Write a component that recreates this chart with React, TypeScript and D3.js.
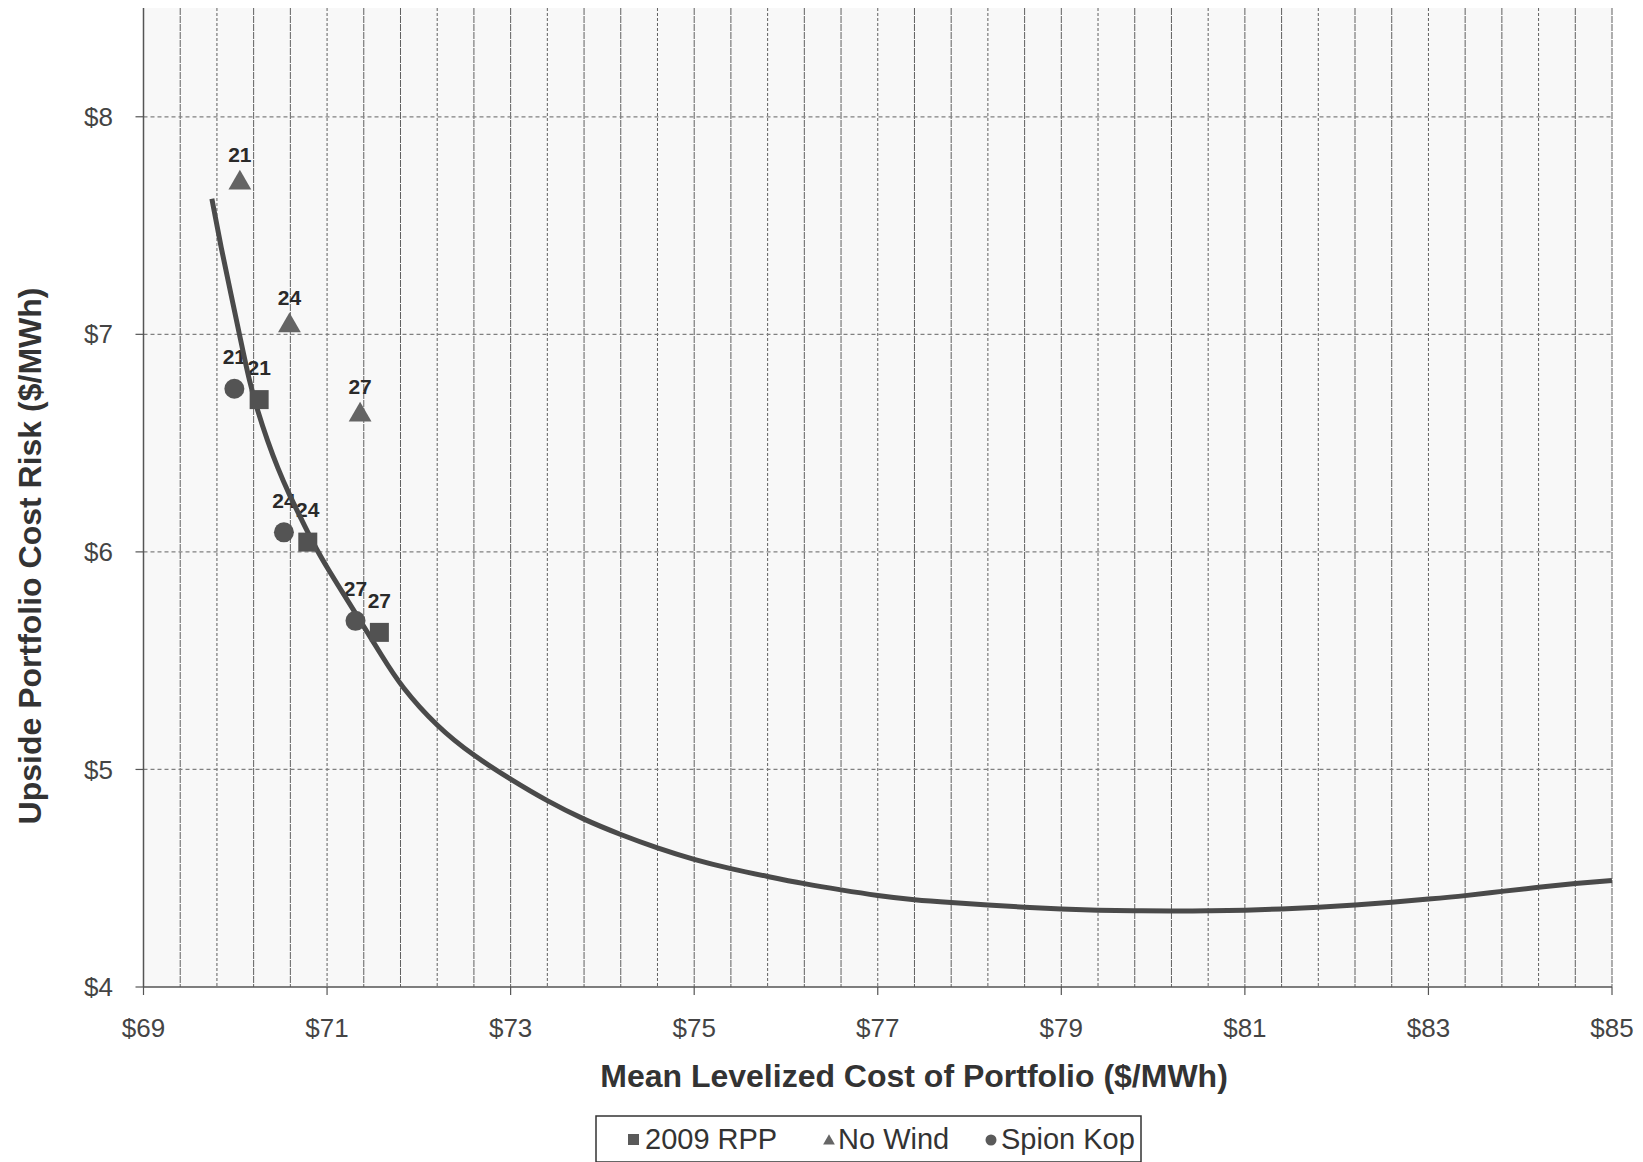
import React from 'react';
import * as d3 from 'd3';

// efficient frontier
const frontierX = [69.745, 69.844, 69.953, 70.06, 70.153, 70.244, 70.353, 70.462, 70.589, 70.716, 70.86, 71.007, 71.189, 71.371, 71.6, 71.8, 72.2, 72.6, 73.0, 73.4, 73.8, 74.2, 74.6, 75.0, 75.4, 75.8, 76.2, 76.6, 77.0, 77.4, 77.8, 78.2, 78.6, 79.0, 79.4, 79.8, 80.2, 80.6, 81.0, 81.4, 81.8, 82.2, 82.6, 83.0, 83.4, 83.8, 84.2, 84.6, 85.0];
const frontierY = [7.623, 7.4, 7.185, 6.97, 6.785, 6.646, 6.508, 6.385, 6.262, 6.154, 6.03, 5.923, 5.8, 5.677, 5.52, 5.385, 5.195, 5.062, 4.954, 4.854, 4.769, 4.7, 4.638, 4.585, 4.543, 4.508, 4.474, 4.446, 4.42, 4.4, 4.388, 4.377, 4.366, 4.358, 4.353, 4.35, 4.349, 4.35, 4.353, 4.358, 4.366, 4.376, 4.389, 4.404, 4.419, 4.44, 4.458, 4.476, 4.49];

const pointLabels = ['21', '24', '27'];
const rppX = [70.26, 70.79, 71.57];
const rppY = [6.70, 6.045, 5.63];
const noWindX = [70.05, 70.59, 71.36];
const noWindY = [7.71, 7.054, 6.643];
const spionX = [69.99, 70.53, 71.31];
const spionY = [6.75, 6.09, 5.683];

const xTicks = [69, 71, 73, 75, 77, 79, 81, 83, 85];
const yTicks = [4, 5, 6, 7, 8];

const FONT = 'Arial, "Liberation Sans", Helvetica, sans-serif';

export default function App() {
  const width = 1643;
  const height = 1162;
  const left = 143.5, right = 1612, top = 8, bottom = 987;

  const x = d3.scaleLinear().domain([69, 85]).range([left, right]);
  const y = d3.scaleLinear().domain([4, 8.5]).range([bottom, top]);

  const gridX = d3.range(69.4, 85.01, 0.4);

  const line = d3.line<number>()
    .x((d, i) => x(frontierX[i]))
    .y(d => y(d))
    .curve(d3.curveBasis);

  const sq = d3.symbol().type(d3.symbolSquare).size(19 * 19)();
  const tri = d3.symbol().type(d3.symbolTriangle).size(225)();
  const circ = d3.symbol().type(d3.symbolCircle).size(Math.PI * 10 * 10)();

  const series = [
    { xs: rppX, ys: rppY, path: sq, fill: '#525252', dy: 0, off: 32 },
    { xs: noWindX, ys: noWindY, path: tri, fill: '#646464', dy: 3, off: 25 },
    { xs: spionX, ys: spionY, path: circ, fill: '#545454', dy: 0, off: 32 },
  ];

  return (
    <div style={{ position: 'absolute', left: 0, top: 0 }}>
      <svg width={width} height={height} style={{ display: 'block', background: '#ffffff' }}>
        <rect x={left} y={top} width={right - left} height={bottom - top} fill="#f8f8f8" />

        {/* vertical grid */}
        {gridX.map((g, i) => (
          <line key={'gx' + i} x1={x(g)} x2={x(g)} y1={top} y2={bottom}
            stroke="#606060" strokeWidth={1} strokeDasharray={i % 3 === 1 ? '3,2' : '7,1'} />
        ))}
        {/* horizontal grid */}
        {yTicks.slice(1).map(t => (
          <line key={'gy' + t} x1={left} x2={right} y1={y(t)} y2={y(t)}
            stroke="#808080" strokeWidth={1.2} strokeDasharray="4,3" />
        ))}

        {/* axes */}
        <line x1={left} x2={left} y1={top} y2={bottom} stroke="#555" strokeWidth={1.5} />
        <line x1={left} x2={right} y1={bottom} y2={bottom} stroke="#555" strokeWidth={1.5} />
        {yTicks.map(t => (
          <g key={'yt' + t}>
            <line x1={left - 8} x2={left} y1={y(t)} y2={y(t)} stroke="#555" strokeWidth={1.2} />
            <text x={113} y={y(t)} dy="0.35em" textAnchor="end" fontFamily={FONT} fontSize={26} fill="#444">
              ${t}
            </text>
          </g>
        ))}
        {xTicks.map(t => (
          <g key={'xt' + t}>
            <line x1={x(t)} x2={x(t)} y1={bottom} y2={bottom + 8} stroke="#555" strokeWidth={1.2} />
            <text x={x(t)} y={1037} textAnchor="middle" fontFamily={FONT} fontSize={26} fill="#444">
              ${t}
            </text>
          </g>
        ))}

        {/* point labels */}
        {series.map((s, si) => s.xs.map((v, i) => (
          <text key={'lb' + si + i} x={x(v)} y={y(s.ys[i]) - s.off} dy="0.35em" textAnchor="middle"
            fontFamily={FONT} fontWeight="bold" fontSize={21} fill="#2a2a2a">
            {pointLabels[i]}
          </text>
        )))}

        <path d={line(frontierY) || ''} fill="none" stroke="#4a4a4a" strokeWidth={5} strokeLinecap="butt" />

        {/* markers */}
        {series.map((s, si) => s.xs.map((v, i) => (
          <path key={'mk' + si + i} d={s.path || ''} fill={s.fill}
            transform={`translate(${x(v)},${y(s.ys[i]) + s.dy})`} />
        )))}

        {/* axis titles */}
        <text x={914} y={1087} textAnchor="middle" fontFamily={FONT} fontWeight="bold" fontSize={32} fill="#333">
          Mean Levelized Cost of Portfolio ($/MWh)
        </text>
        <text transform="translate(30,556) rotate(-90)" textAnchor="middle" dy="0.35em"
          fontFamily={FONT} fontWeight="bold" fontSize={32} fill="#333">
          Upside Portfolio Cost Risk ($/MWh)
        </text>

        {/* legend */}
        <rect x={596} y={1116} width={545} height={46} fill="#ffffff" stroke="#333" strokeWidth={1.5} />
        <rect x={628} y={1134} width={11} height={11} fill="#5a5a5a" />
        <text x={645} y={1149} fontFamily={FONT} fontSize={29} fill="#333">2009 RPP</text>
        <path d={d3.symbol().type(d3.symbolTriangle).size(60)() || ''} fill="#666" transform="translate(829,1141)" />
        <text x={838} y={1149} fontFamily={FONT} fontSize={29} fill="#333">No Wind</text>
        <circle cx={991} cy={1140} r={5.5} fill="#5a5a5a" />
        <text x={1001} y={1149} fontFamily={FONT} fontSize={29} fill="#333">Spion Kop</text>
      </svg>
    </div>
  );
}
